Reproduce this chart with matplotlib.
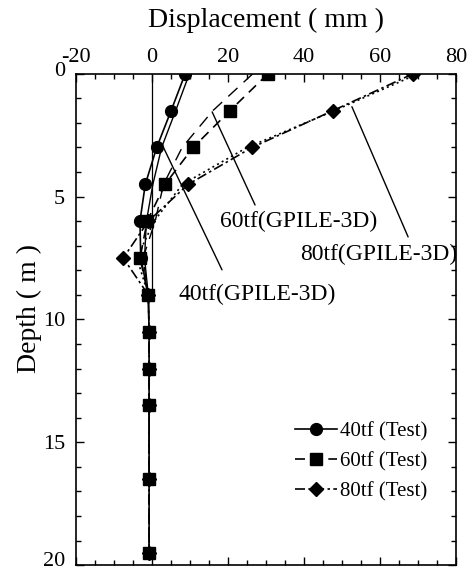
import matplotlib.pyplot as plt
from matplotlib.ticker import MultipleLocator
from matplotlib.transforms import ScaledTranslation

plt.rcParams['font.family'] = ['Liberation Serif', 'DejaVu Serif']
plt.rcParams['axes.unicode_minus'] = False

# test data (markers)
depth = [0, 1.5, 3, 4.5, 6, 7.5, 9, 10.5, 12, 13.5, 16.5, 19.5]
test_40 = [8.7, 5.0, 1.2, -1.8, -3.2, -3.0, -1.0, -0.8, -0.8, -0.8, -0.8, -0.8]
test_60 = [30.5, 20.5, 10.8, 3.4, -1.3, -3.2, -1.0, -0.8, -0.8, -0.8, -0.8, -0.8]
test_80 = [68.7, 47.6, 26.3, 9.5, -1.0, -7.6, -1.0, -0.8, -0.8, -0.8, -0.8, -0.8]

# GPILE-3D computed curves
calc_depth = [0, 1.5, 3, 4.5, 6, 7.5, 9]
calc_40 = [9.8, 6.2, 2.5, 0.2, -1.5, -2.0, -1.0]
calc_60 = [26.5, 16.0, 7.9, 3.0, 0.8, -2.4, -1.0]
calc_80 = [70.0, 48.0, 25.0, 8.0, 0.5, -4.0, -1.0]

pile_len = 9

fig = plt.figure(figsize=(4.73, 5.72), dpi=100)
ax = fig.add_axes([0.161, 0.012, 0.803, 0.859])

ax.vlines(0, 0, pile_len, color='k', lw=0.9)

ax.plot(calc_40, calc_depth, color='k', lw=1.0)
ax.plot(calc_60, calc_depth, color='k', lw=1.0, dashes=(9, 6))
ax.plot(calc_80, calc_depth, color='k', lw=1.2, linestyle=(0, (1.2, 2)))

ax.plot(test_40, depth, color='k', lw=1.2, marker='o', ms=8.5, label='40tf (Test)')
ax.plot(test_60, depth, color='k', lw=1.2, marker='s', ms=8.5, dashes=(6, 4), label='60tf (Test)')
ax.plot(test_80, depth, color='k', lw=1.2, marker='D', ms=7.5, dashes=(6, 2, 1.5, 2), label='80tf (Test)')

# leader lines + labels
lk = dict(arrowstyle='-', color='k', lw=1.0, shrinkA=0, shrinkB=0)
ax.annotate('', xy=(15.8, 1.55), xytext=(27.1, 5.34), arrowprops=lk)
ax.text(38.7, 6.0, '60tf(GPILE-3D)', fontsize=17, ha='center', va='center')
ax.annotate('', xy=(52.6, 1.34), xytext=(67.4, 6.64), arrowprops=lk)
ax.text(59.7, 7.37, '80tf(GPILE-3D)', fontsize=17, ha='center', va='center')
ax.annotate('', xy=(2.9, 2.97), xytext=(18.4, 7.98), arrowprops=lk)
ax.text(27.6, 9.0, '40tf(GPILE-3D)', fontsize=17, ha='center', va='center')

ax.set_xlim(-20, 80)
ax.set_ylim(20, 0)
ax.xaxis.set_major_locator(MultipleLocator(20))
ax.xaxis.set_minor_locator(MultipleLocator(5))
ax.yaxis.set_major_locator(MultipleLocator(5))
ax.yaxis.set_minor_locator(MultipleLocator(1))
ax.tick_params(which='both', direction='in', top=True, bottom=True, left=True, right=True,
               labeltop=True, labelbottom=False, labelsize=16, width=1.0)
ax.tick_params(which='major', length=6)
ax.tick_params(which='minor', length=3.5)
ax.tick_params(axis='x', which='major', pad=5)
ax.tick_params(axis='y', which='major', pad=8)
for s in ax.spines.values():
    s.set_linewidth(1.2)

ax.xaxis.set_label_position('top')
ax.set_xlabel('Displacement ( mm )', fontsize=20, labelpad=15)
ax.set_ylabel('Depth ( m )', fontsize=20)
ax.yaxis.set_label_coords(-0.09, 0.523)

ax.legend(loc='center right', bbox_to_anchor=(0.925, 0.21), frameon=False, fontsize=15,
          handlelength=2.0, handletextpad=0.15, labelspacing=0.5, borderpad=0, borderaxespad=0)

# nudge the end labels of the depth axis upward like the original
fig.canvas.draw()
shift = {'0': 5, '20': 6}
for t in ax.yaxis.get_major_ticks():
    txt = t.label1.get_text()
    if txt in shift:
        t.label1.set_transform(t.label1.get_transform() +
                               ScaledTranslation(0, shift[txt] / 100, fig.dpi_scale_trans))

fig.savefig('out.png', dpi=100)
